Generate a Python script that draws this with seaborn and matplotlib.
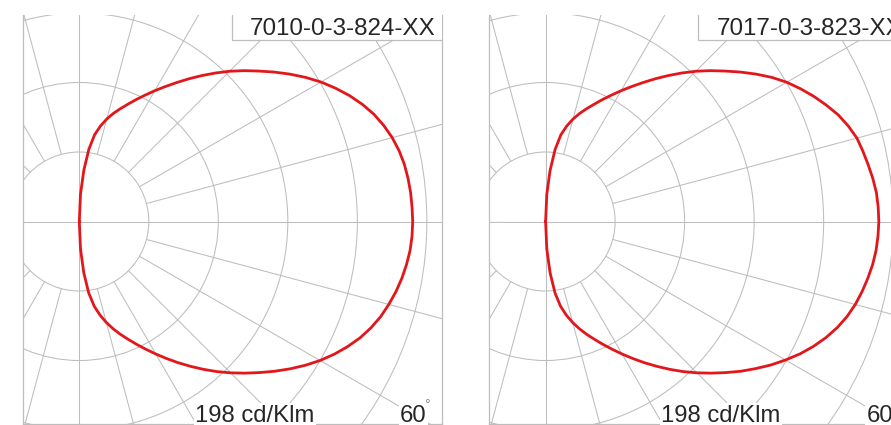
import numpy as np
import pandas as pd
import matplotlib
matplotlib.use("Agg")
import matplotlib.pyplot as plt
from matplotlib.patches import Circle, Rectangle
import seaborn as sns

# ---------------- data (cd/klm, angle from the 0° axis, 2.5° steps) ----------------
angles = [i * 2.5 for i in range(37)]   # 0 .. 90 degrees

panel1_name = "7010-0-3-824-XX"
panel1_upper = [198.0, 197.8, 197.5, 196.9, 196.0, 194.5, 192.4, 189.6, 186.2, 181.9,
                177.0, 171.5, 165.7, 159.3, 152.6, 145.8, 139.0, 132.6, 126.2, 119.6,
                113.1, 106.8, 100.7, 95.0, 89.7, 84.6, 79.9, 75.4, 71.3, 67.3,
                63.0, 58.1, 52.3, 43.1, 30.3, 16.0, 0.0]
panel1_lower = [198.0, 197.8, 197.2, 196.0, 194.5, 192.6, 190.3, 187.7, 184.4, 180.5,
                175.8, 170.7, 165.1, 159.0, 152.6, 146.1, 139.6, 133.3, 127.1, 120.9,
                114.6, 108.4, 102.4, 96.5, 90.9, 85.5, 80.5, 75.7, 71.3, 66.8,
                62.1, 57.0, 51.1, 42.8, 30.6, 16.3, 0.0]

panel2_name = "7017-0-3-823-XX"
panel2_upper = [197.9, 197.7, 197.2, 196.0, 194.5, 193.0, 191.4, 188.5, 185.0, 180.5,
                175.8, 170.7, 165.4, 159.3, 152.6, 145.8, 139.0, 132.6, 126.2, 119.6,
                113.1, 106.8, 100.7, 95.0, 89.7, 84.6, 79.9, 75.4, 71.3, 67.3,
                63.0, 58.1, 52.3, 43.1, 30.3, 16.0, 0.0]
panel2_lower = [197.9, 197.6, 197.0, 195.9, 194.3, 192.5, 190.4, 187.7, 184.3, 180.2,
                175.5, 170.3, 164.5, 158.6, 152.3, 146.1, 139.6, 133.3, 127.1, 120.9,
                114.6, 108.4, 102.4, 96.5, 90.9, 85.5, 80.5, 75.7, 71.3, 66.8,
                62.1, 57.0, 51.1, 42.8, 30.6, 16.3, 0.0]

scale_label = "198 cd/Klm"
angle_label = "60"
ring_step = 41.28          # cd/klm between grid rings
gamma_step = 15            # degrees between radial grid lines

# ---------------- style ----------------
sns.set_style("white")
plt.rcParams["font.family"] = ["Liberation Sans", "DejaVu Sans"]

W, H = 891, 425
fig = plt.figure(figsize=(W / 100, H / 100), dpi=100)

PX = 333.4 / 198.0           # pixels per cd/klm
AX_W, AX_H = 419, 409        # axes size in px
CX, CY = 56.3, 206.5         # centre offset from axes left / top in px
GRID = "#bdbdbd"
RED = "#e2161b"
TXT = "#262626"


def panel(left_px, name, upper, lower):
    ax = fig.add_axes([left_px / W, (H - 15 - AX_H) / H, AX_W / W, AX_H / H])
    ax.set_xlim(-CX / PX, (AX_W - CX) / PX)
    ax.set_ylim(-(AX_H - CY) / PX, CY / PX)
    ax.set_xticks([])
    ax.set_yticks([])
    for s in ["left", "right", "bottom"]:
        ax.spines[s].set_color(GRID)
        ax.spines[s].set_linewidth(0.9)
    ax.spines["top"].set_visible(False)

    # rings
    for k in range(1, 9):
        ax.add_patch(Circle((0, 0), k * ring_step, fill=False, ec=GRID, lw=0.75, zorder=1))
    # radial lines
    rmax = 10 * ring_step
    for a in range(0, 360, gamma_step):
        t = np.deg2rad(a)
        r0 = 0 if a % 90 == 0 else ring_step
        ax.plot([r0 * np.cos(t), rmax * np.cos(t)], [r0 * np.sin(t), rmax * np.sin(t)],
                color=GRID, lw=0.75, zorder=1)

    # intensity curve: from centre, over the upper half, back through the lower half
    th = np.array(angles[::-1] + angles[1:], dtype=float)
    sign = np.array([1] * len(angles) + [-1] * (len(angles) - 1))
    rr = np.array(upper[::-1] + lower[1:], dtype=float)
    df = pd.DataFrame({
        "x": rr * np.cos(np.deg2rad(th)),
        "y": sign * rr * np.sin(np.deg2rad(th)),
    })
    sns.lineplot(data=df, x="x", y="y", sort=False, estimator=None, color=RED,
                 lw=2.0, ax=ax, zorder=3)
    ax.set_xlabel("")
    ax.set_ylabel("")

    # name box
    ax.add_patch(Rectangle((209 / AX_W, (AX_H - 25) / AX_H), 1, 0.2, transform=ax.transAxes,
                           fc="white", ec=GRID, lw=0.9, zorder=4, clip_on=True))
    ax.text(227 / AX_W, (AX_H - 20) / AX_H, name, transform=ax.transAxes, ha="left",
            va="baseline", fontsize=17.4, color=TXT, zorder=5)

    # bottom labels
    base = (AX_H - 406.7) / AX_H
    ax.text(172 / AX_W, base, scale_label, transform=ax.transAxes, ha="left", va="baseline",
            fontsize=17.2, color=TXT, zorder=5,
            bbox=dict(fc="white", ec="none", pad=1.0))
    ax.text(377 / AX_W, base, angle_label, transform=ax.transAxes, ha="left", va="baseline",
            fontsize=17.2, color=TXT, zorder=5,
            bbox=dict(fc="white", ec="none", pad=1.0))
    ax.text(404 / AX_W, (AX_H - 394) / AX_H, "°", transform=ax.transAxes, ha="center",
            va="baseline", fontsize=10, color="#8a8a8a", zorder=6)
    return ax


panel(23, panel1_name, panel1_upper, panel1_lower)
panel(489.3, panel2_name, panel2_upper, panel2_lower)

fig.savefig("out.png", dpi=100, facecolor="white")
